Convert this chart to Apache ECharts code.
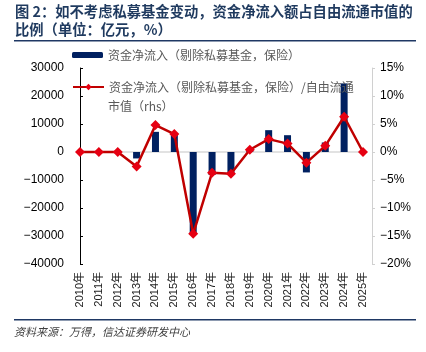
<!DOCTYPE html>
<html>
<head>
<meta charset="utf-8">
<script src="https://cdn.jsdelivr.net/npm/echarts@6/dist/echarts.min.js"></script>
<style>
  html, body { margin: 0; padding: 0; background: #fff; }
  #chart { width: 426px; height: 352px; }
</style>
</head>
<body>
<div id="chart"></div>
<script>
  // 年份与数据
  var years = ["2010年", "2011年", "2012年", "2013年", "2014年", "2015年", "2016年", "2017年",
               "2018年", "2019年", "2020年", "2021年", "2022年", "2023年", "2024年", "2025年"];
  var netInflow = [0, 0, 0, -2300, 7200, 6300, -29500, -8200, -8000, 400, 7800, 6000, -7300, 3400, 24500, 0];
  var inflowRatio = [0, 0, 0, -2.6, 4.8, 3.2, -14.6, -3.7, -3.9, 0.4, 2.3, 1.5, -1.9, 1.1, 6.3, 0];
  var leftTicks = [-40000, 30000, 10000];   // min, max, interval
  var rightTicks = [-20, 15, 5];

  var barName = "资金净流入（剔除私募基金，保险）";
  var lineName = "资金净流入（剔除私募基金，保险）/自由流通市值（rhs）";

  var chart = echarts.init(document.getElementById("chart"));
  var font = "'Noto Sans CJK SC', sans-serif";

  var option = {
    animation: false,
    textStyle: { fontFamily: font },
    graphic: [
      { type: "text", left: 15, top: 4,
        style: { text: "图 2：如不考虑私募基金变动，资金净流入额占自由流通市值的", fontSize: 14.3, fontWeight: "bold", fill: "#1f3a5f", fontFamily: font } },
      { type: "text", left: 15, top: 22,
        style: { text: "比例（单位：亿元，%）", fontSize: 14.3, fontWeight: "bold", fill: "#1f3a5f", fontFamily: font } },
      { type: "rect", shape: { x: 14, y: 40, width: 402, height: 1.5 }, style: { fill: "#1f3864" } },
      { type: "rect", shape: { x: 14, y: 319, width: 402, height: 1.5 }, style: { fill: "#1f3864" } },
      { type: "text", left: 14, top: 326,
        style: { text: "资料来源：万得，信达证券研发中心", fontSize: 11, fontStyle: "italic", fill: "#404040", fontFamily: font } },
      { type: "text", left: 108, top: 100,
        style: { text: "市值（rhs）", fontSize: 12, fill: "#595959", fontFamily: font } }
    ],
    legend: [
      { data: [barName], left: 72, top: 49, padding: 0, itemWidth: 31, itemHeight: 6,
        textStyle: { fontSize: 12, color: "#595959", fontFamily: font } },
      { data: [lineName], left: 72, top: 81, padding: 0, itemWidth: 31, itemHeight: 8,
        formatter: function () { return "资金净流入（剔除私募基金，保险）/自由流通"; },
        textStyle: { fontSize: 12, color: "#595959", fontFamily: font } }
    ],
    grid: { left: 80, right: 63, top: 68, bottom: 88 },
    xAxis: [
      {
        type: "category", data: years, boundaryGap: false, position: "bottom",
        axisLine: { show: false, onZero: false }, axisTick: { show: false },
        axisLabel: { rotate: 90, fontSize: 11, color: "#222", margin: 8, fontFamily: "Arial, 'Liberation Sans', " + font }
      },
      {
        type: "category", data: years, boundaryGap: false, position: "bottom",
        axisLine: { show: true, onZero: true, lineStyle: { color: "#d9d9d9", width: 1.5 } },
        axisTick: { show: false }, axisLabel: { show: false }
      }
    ],
    yAxis: [
      {
        type: "value", min: leftTicks[0], max: leftTicks[1], interval: leftTicks[2],
        axisLine: { show: true, lineStyle: { color: "#000" } },
        axisTick: { show: true, inside: true, length: 3, lineStyle: { color: "#000" } },
        splitLine: { show: false },
        axisLabel: { fontSize: 12, color: "#000", margin: 16, fontFamily: "Arial, 'Liberation Sans', sans-serif",
          formatter: function (v) { return String(v).replace("-", "\u2212"); } }
      },
      {
        type: "value", min: rightTicks[0], max: rightTicks[1], interval: rightTicks[2], position: "right", offset: 9,
        axisLine: { show: true, lineStyle: { color: "#d0d0d0" } },
        axisTick: { show: true, length: 3, lineStyle: { color: "#d0d0d0" } },
        splitLine: { show: false },
        axisLabel: { fontSize: 12, color: "#000", margin: 8, fontFamily: "Arial, 'Liberation Sans', sans-serif",
          formatter: function (v) { return String(v).replace("-", "\u2212") + "%"; } }
      }
    ],
    series: [
      {
        name: barName, type: "bar", data: netInflow, barWidth: 7,
        itemStyle: { color: "#002060" }
      },
      {
        name: lineName, type: "line", yAxisIndex: 1, data: inflowRatio,
        symbol: "diamond", symbolSize: 10,
        lineStyle: { color: "#c00000", width: 2.5 },
        itemStyle: { color: "#e60012" }
      }
    ]
  };
  chart.setOption(option);
</script>
</body>
</html>
